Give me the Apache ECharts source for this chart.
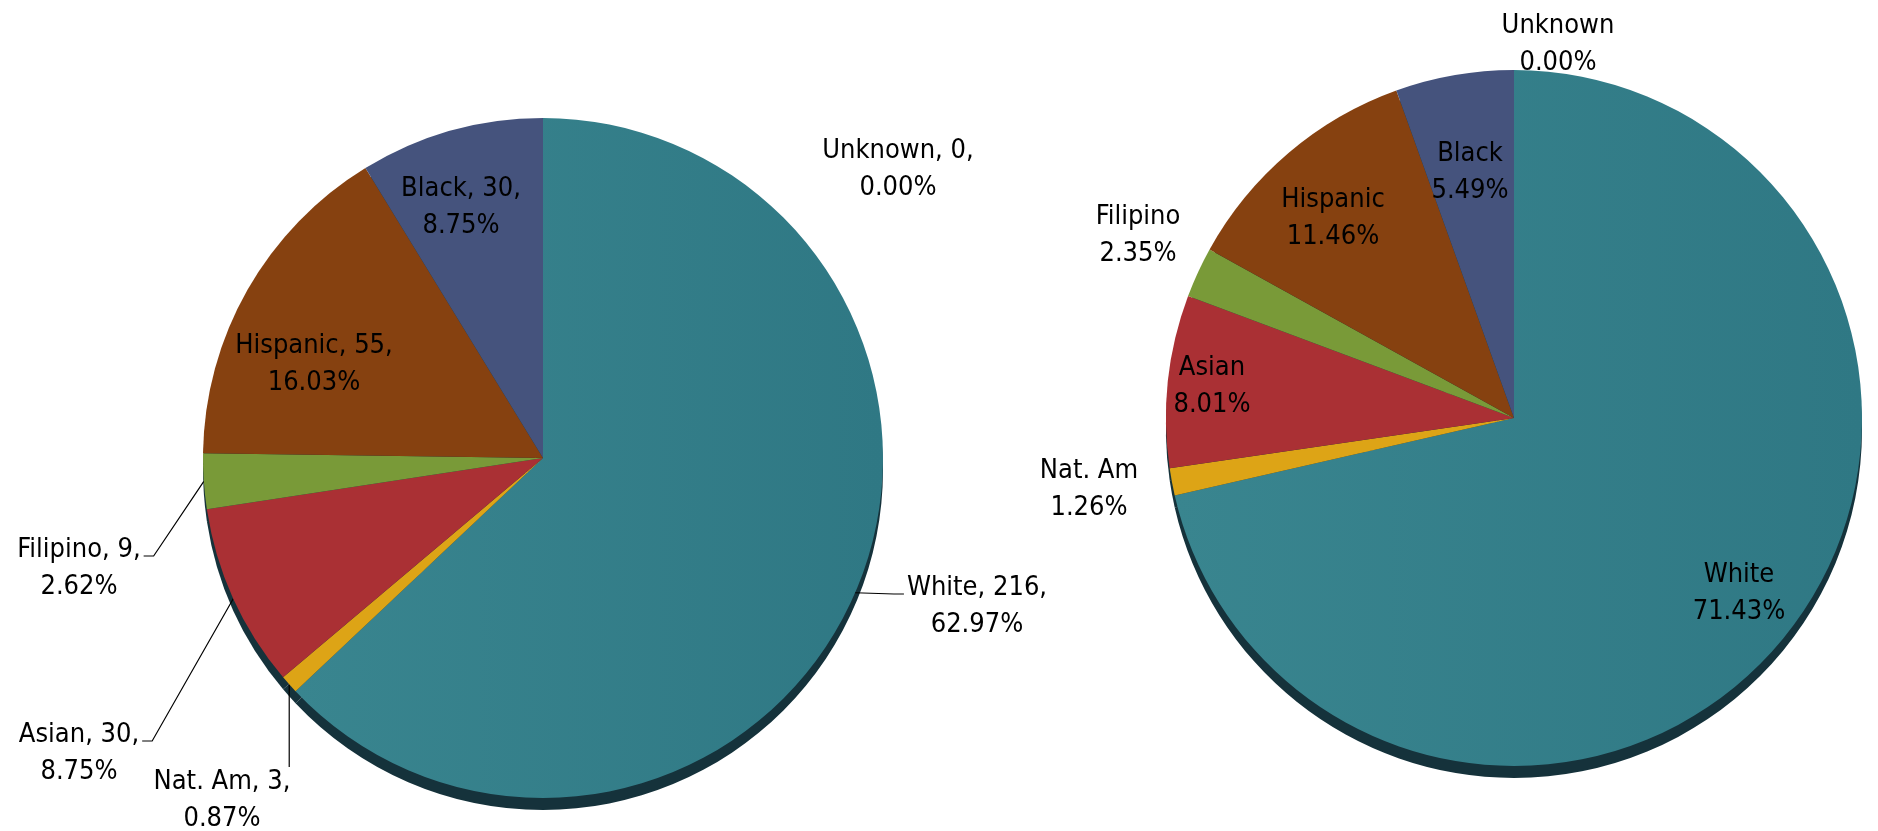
<!DOCTYPE html>
<html>
<head>
<meta charset="utf-8">
<title>Ethnicity pies</title>
<script src="https://cdn.jsdelivr.net/npm/echarts@6/dist/echarts.min.js"></script>
<style>
    html, body { margin: 0; padding: 0; background: #fff; }
    #main { width: 1878px; height: 831px; }
</style>
</head>
<body>
<div id="main"></div>
<script>
// slices in drawing order, clockwise from 12 o'clock
var categories = ['White', 'Nat. Am', 'Asian', 'Filipino', 'Hispanic', 'Black', 'Unknown'];
// left pie: head counts
var leftCounts = [216, 3, 30, 9, 55, 30, 0];
// right pie: only the shares are shown
var rightPercents = [71.43, 1.26, 8.01, 2.35, 11.46, 5.49, 0];

// teal gets a soft left-to-right shading like the Excel 3D pie
var tealShade = {
    type: 'linear', x: 0, y: 0, x2: 1, y2: 0,
    colorStops: [{ offset: 0, color: '#39858f' }, { offset: 1, color: '#2f7884' }]
};
var sliceColors = [tealShade, '#dda416', '#aa3034', '#799a38', '#864110', '#45537d', '#7f7f7f'];
var depthColor = '#15323b';
var labelFont = "'Liberation Sans Narrow', 'DejaVu Sans Condensed', Roboto, sans-serif";

// centre of each text block, as Excel placed them (same order as categories)
var leftLabelSpots = [[977, 606], [222, 800], [79, 753], [79, 568], [314, 364], [461, 207], [898, 169]];
var rightLabelSpots = [[1739, 593], [1089, 489], [1212, 386], [1138, 235], [1333, 218], [1470, 172], [1558, 44]];
// side of the text where the leader line comes in (left pie only)
var leftLeaders = ['left', 'top', 'right', 'right', null, null, null];

var leftTotal = leftCounts.reduce(function (a, b) { return a + b; }, 0);

function leaderPoints(p, side, spot) {
    var start = p.labelLinePoints[0];
    var halfW = p.labelRect.width / 2;
    var halfH = p.labelRect.height / 2;
    if (side === 'top') {
        var top = spot[1] - halfH + 4;
        return [start, [start[0], top], [start[0], top]];
    }
    var y = spot[1] - 12;
    var x = side === 'left' ? spot[0] - halfW - 3 : spot[0] + halfW + 3;
    var knee = side === 'left' ? x - 10 : x + 10;
    return [start, [knee, y], [x, y]];
}

function placeLabels(spots, leaders) {
    return function (p) {
        var spot = spots[p.dataIndex];
        var out = { x: spot[0], y: spot[1], align: 'center', verticalAlign: 'middle' };
        var side = leaders && leaders[p.dataIndex];
        if (side && p.labelLinePoints) {
            out.labelLinePoints = leaderPoints(p, side, spot);
        }
        return out;
    };
}

function items(values, leaders) {
    return categories.map(function (name, i) {
        return {
            name: name,
            value: values[i],
            itemStyle: { color: sliceColors[i] },
            labelLine: { show: !!(leaders && leaders[i]) }
        };
    });
}

// dark rim under the pie (same slices, pushed down)
function depthSeries(values, center, radius) {
    return {
        type: 'pie',
        silent: true,
        z: 1,
        center: [center[0], center[1] + 12],
        radius: radius,
        startAngle: 90,
        clockwise: true,
        label: { show: false },
        labelLine: { show: false },
        itemStyle: { color: depthColor, borderWidth: 0 },
        emphasis: { disabled: true },
        data: values.map(function (v) { return { value: v }; })
    };
}

function mainSeries(values, center, radius, formatter, spots, leaders) {
    return {
        type: 'pie',
        z: 2,
        center: center,
        radius: radius,
        startAngle: 90,
        clockwise: true,
        avoidLabelOverlap: false,
        itemStyle: { borderWidth: 0 },
        emphasis: { disabled: true },
        label: {
            show: true,
            position: 'outside',
            formatter: formatter,
            fontFamily: labelFont,
            fontSize: 27,
            lineHeight: 37,
            color: '#000'
        },
        labelLine: {
            length: 10,
            length2: 10,
            smooth: false,
            lineStyle: { color: '#000', width: 1.2 }
        },
        labelLayout: placeLabels(spots, leaders),
        data: items(values, leaders)
    };
}

var chartDom = document.getElementById('main');
var myChart = echarts.init(chartDom, null, { renderer: 'canvas' });
var option;

var leftCenter = [543, 458], leftRadius = 340;
var rightCenter = [1514, 418], rightRadius = 348;

option = {
    backgroundColor: '#fff',
    animation: false,
    tooltip: { show: false },
    series: [
        depthSeries(leftCounts, leftCenter, leftRadius),
        mainSeries(leftCounts, leftCenter, leftRadius, function (p) {
            return p.name + ', ' + p.value + ',\n' + (p.value / leftTotal * 100).toFixed(2) + '%';
        }, leftLabelSpots, leftLeaders),
        depthSeries(rightPercents, rightCenter, rightRadius),
        mainSeries(rightPercents, rightCenter, rightRadius, function (p) {
            return p.name + '\n' + p.value.toFixed(2) + '%';
        }, rightLabelSpots, null)
    ]
};

option && myChart.setOption(option);
</script>
</body>
</html>
